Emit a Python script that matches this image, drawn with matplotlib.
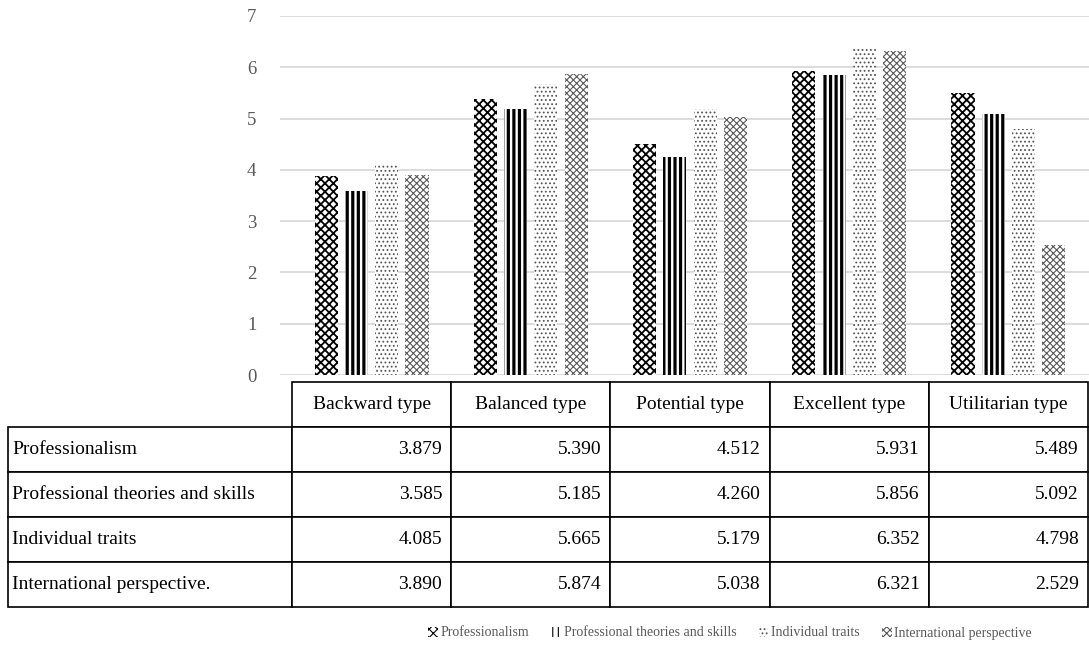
import numpy as np
import matplotlib.pyplot as plt
from matplotlib.table import Table
from matplotlib.patches import Patch

categories = ["Backward type", "Balanced type", "Potential type", "Excellent type", "Utilitarian type"]
series_names = ["Professionalism", "Professional theories and skills", "Individual traits", "International perspective"]
row_labels = ["Professionalism", "Professional theories and skills", "Individual traits", "International perspective."]

professionalism = [3.879, 5.390, 4.512, 5.931, 5.489]
theories_skills = [3.585, 5.185, 4.260, 5.856, 5.092]
individual_traits = [4.085, 5.665, 5.179, 6.352, 4.798]
international = [3.890, 5.874, 5.038, 6.321, 2.529]

series_values = [professionalism, theories_skills, individual_traits, international]

# hatch style per series: (hatch, hatch colour, hatch linewidth)
styles = [
    ("xxxx", "black", 1.3),
    ("|||", "black", 2.3),
    ("....", "#555555", 0.8),
    ("xxxxx", "#5a5a5a", 0.8),
]

W, H = 1089, 648
SERIF = ["Liberation Serif", "DejaVu Serif"]
GRAY = "#595959"

fig = plt.figure(figsize=(W / 100, H / 100), dpi=100)

# chart area (pixel layout converted to figure fractions)
col0_left, col0_right, right = 8, 292, 1088
col_w = (right - col0_right) / len(categories)
ax_left = 280
ax = fig.add_axes([ax_left / W, 1 - 375 / H, (W - ax_left) / W, (375 - 16) / H])

x = np.arange(len(categories))
bar_w = 0.145
step = 0.19
for k, (vals, (hatch, hcol, hlw)) in enumerate(zip(series_values, styles)):
    plt.rcParams["hatch.linewidth"] = hlw
    bars = ax.bar(x + (k - 1.5) * step, vals, width=bar_w, facecolor="white",
                  edgecolor=hcol, hatch=hatch, linewidth=0, zorder=3)
    for b in bars:
        try:
            b.set_hatch_linewidth(hlw)
        except AttributeError:
            pass

ax.set_ylim(0, 7)
ax.set_yticks(range(8))
ax.set_xlim(-0.5 - (col0_right - ax_left) / col_w, 4.5 + (W - right) / col_w)
ax.set_xticks([])
ax.yaxis.grid(True, color="#d9d9d9", linewidth=1.3, zorder=0)
ax.set_axisbelow(True)
for s in ax.spines.values():
    s.set_visible(False)
ax.tick_params(axis="y", length=0, pad=17, labelcolor=GRAY, labelsize=13.5)
for t in ax.get_yticklabels():
    t.set_fontfamily(SERIF)

# data table under the chart
tax = fig.add_axes([col0_left / W, 1 - 607 / H, (right - col0_left) / W, 225 / H])
tax.axis("off")
tbl = Table(tax, bbox=[0, 0, 1, 1])
label_w = col0_right - col0_left
h = 1 / 5
for j, name in enumerate(categories):
    tbl.add_cell(0, j + 1, width=col_w, height=h, text=name, loc="center")
for i, lab in enumerate(row_labels):
    c = tbl.add_cell(i + 1, 0, width=label_w, height=h, text=lab, loc="left")
    c.PAD = 4 / label_w
    for j, v in enumerate(series_values[i]):
        c = tbl.add_cell(i + 1, j + 1, width=col_w, height=h, text=f"{v:.3f}", loc="right")
        c.PAD = 9 / col_w
tbl.auto_set_font_size(False)
tbl.set_fontsize(14)
for cell in tbl.get_celld().values():
    cell.set_edgecolor("black")
    cell.set_linewidth(1.2)
    cell.get_text().set_fontfamily(SERIF)
    cell.get_text().set_color("black")
tax.add_table(tbl)

# legend
handles = []
for name, (hatch, hcol, hlw) in zip(series_names, styles):
    handles.append(Patch(facecolor="white", edgecolor=hcol, hatch=hatch, linewidth=0, label=name))
fig.legend(handles=handles, loc="center", bbox_to_anchor=(730 / W, 1 - 633 / H), ncol=4,
           frameon=False, handlelength=0.7, handleheight=0.7, handletextpad=0.2,
           columnspacing=1.6, prop={"family": SERIF, "size": 10}, labelcolor=GRAY)

fig.savefig("out.png", dpi=100)
